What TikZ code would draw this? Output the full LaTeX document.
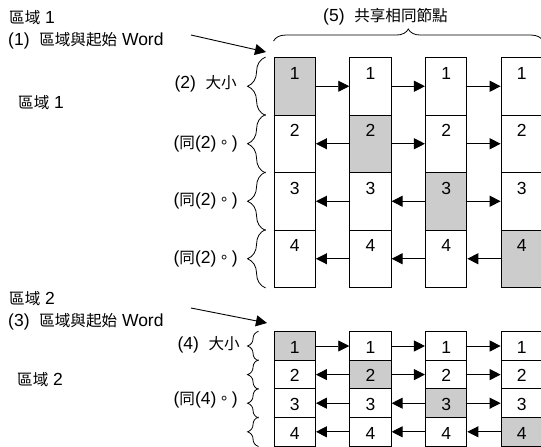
\documentclass[tikz,border=0pt]{standalone}
\usepackage{fontspec}
\setmainfont{Liberation Sans}
\newfontfamily\cjk[Scale=0.89]{Noto Sans CJK TC}
\usetikzlibrary{arrows.meta,decorations.pathreplacing}
\definecolor{cellgray}{RGB}{204,204,204}
\newcommand{\zh}[1]{{\cjk #1}}

\begin{document}
\begin{tikzpicture}[x=1pt,y=-1pt,>={Triangle[length=11pt,width=11pt]},font=\fontsize{17.5}{20}\selectfont,
  txt/.style={inner sep=0pt},
  topcell/.style={draw,line width=.9pt,inner sep=0pt,minimum width=41.5pt,text height=21.6pt,text depth=35.9pt},
  lowcell/.style={draw,line width=.9pt,inner sep=0pt,minimum width=41.5pt,text height=21.6pt,text depth=7pt},
  link/.style={->,line width=.9pt},
  lbrace/.style={decorate,decoration={brace,amplitude=#1},line width=.8pt}]
 \useasboundingbox (0,0) rectangle (541,447);
 % the two grids of cells
 \foreach \c in {1,...,4}{
  \foreach \r in {1,...,4}{
   \ifnum\r=\c \def\cellfill{cellgray}\else\def\cellfill{white}\fi
   \node[topcell,fill=\cellfill] (a\r\c) at({294.75+75.7*(\c-1)},{86.25+57.5*(\r-1)}){\r};
   \node[lowcell,fill=\cellfill] (b\r\c) at({294.75+75.7*(\c-1)},{346+28.6*(\r-1)}){\r};}}
 \foreach \r/\s/\t in {1/1/2,1/2/3,1/3/4,2/2/1,2/2/3,2/3/4,3/2/1,3/3/2,3/3/4,4/2/1,4/3/2,4/4/3}{
  \draw[link] (a\r\s)--(a\r\t);
  \draw[link] (b\r\s)--(b\r\t);}
 % braces
 \foreach \r in {1,...,4}{
  \draw[lbrace=18pt] ([xshift=-8pt]a\r1.south west)--([xshift=-8pt]a\r1.north west);
  \draw[lbrace=11pt] ([xshift=-15pt]b\r1.south west)--([xshift=-15pt]b\r1.north west);}
 \draw[lbrace=12pt] ([yshift=16pt]a11.north west)--([yshift=16pt]a14.north east);
 % texts
 \node[txt,anchor=west] (share) at(323,17){(5)\ \ \zh{共享相同節點}};
 \node[txt,anchor=west] (reg1) at(9,18){\zh{區域} 1};
 \node[txt,anchor=west] (start1) at(8,41){(1)\ \ \zh{區域與起始} Word};
 \node[txt,anchor=west] (reg1b) at(18,103){\zh{區域} 1};
 \node[txt,anchor=east] (size2) at(237,84){(2)\ \ \zh{大小}};
 \foreach \r in {2,3,4}{\node[txt,anchor=east] (same\r) at(238,{86.25+57.5*(\r-1)}){(\zh{同}(2)\zh{。})};}
 \node[txt,anchor=west] (reg2) at(9,299){\zh{區域} 2};
 \node[txt,anchor=west] (start2) at(8,322){(3)\ \ \zh{區域與起始} Word};
 \node[txt,anchor=west] (reg2b) at(17,380){\zh{區域} 2};
 \node[txt,anchor=east] (size4) at(240,345){(4)\ \ \zh{大小}};
 \node[txt,anchor=east] (sameb) at(238,400){(\zh{同}(4)\zh{。})};
 % pointers
 \coordinate (p1) at(191,35); \coordinate (q1) at(266,52);
 \coordinate (p2) at(191,308); \coordinate (q2) at(267,323);
 \draw[link] (p1)--(q1);
 \draw[link] (p2)--(q2);
\end{tikzpicture}
\end{document}
